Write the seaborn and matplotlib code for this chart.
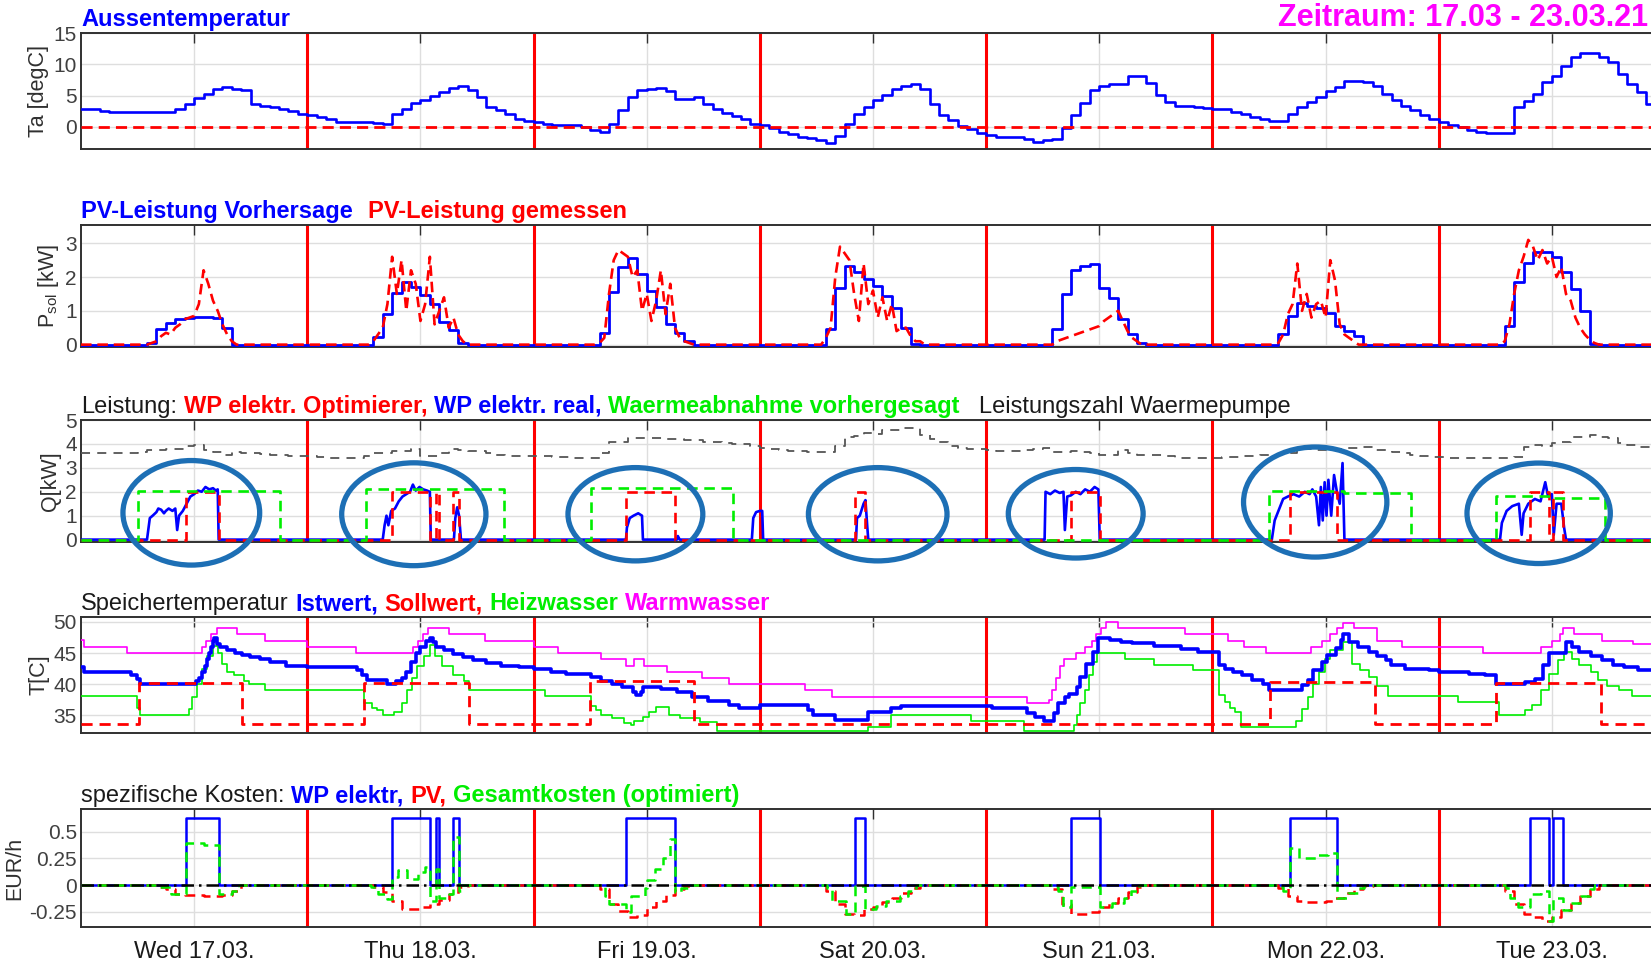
import numpy as np
import matplotlib
matplotlib.use("Agg")
import matplotlib.pyplot as plt
import matplotlib.transforms as mtransforms
from matplotlib.patches import Ellipse
import seaborn as sns

sns.set_theme(style="white")
plt.rcParams["font.family"] = ["Liberation Sans", "DejaVu Sans"]
plt.rcParams["mathtext.default"] = "regular"
plt.rcParams["axes.unicode_minus"] = False

# ---------------- data (hours from 17.03. 00:00) ----------------
day_labels = ["Wed 17.03.", "Thu 18.03.", "Fri 19.03.", "Sat 20.03.",
              "Sun 21.03.", "Mon 22.03.", "Tue 23.03."]

# outside temperature, hourly
ta_17 = [2.9, 2.9, 2.5, 2.4, 2.4, 2.3, 2.4, 2.3, 2.3, 2.4, 2.9, 3.6, 4.6, 5.3, 6.1, 6.4, 6.1, 5.9, 3.7, 3.4, 3.1, 2.9, 2.5, 2.1]
ta_18 = [1.8, 1.5, 1.2, 0.8, 0.7, 0.7, 0.7, 0.6, 0.4, 2.0, 2.8, 3.8, 4.3, 4.9, 5.6, 6.2, 6.5, 5.9, 4.8, 3.2, 2.7, 2.1, 1.3, 0.9]
ta_19 = [0.7, 0.5, 0.3, 0.2, 0.2, 0.0, -0.5, -0.9, 0.5, 2.7, 4.7, 5.9, 6.1, 6.2, 5.7, 4.5, 4.4, 4.7, 3.6, 2.8, 2.2, 1.7, 1.2, 0.5]
ta_20 = [0.3, -0.3, -0.8, -1.2, -1.6, -1.9, -2.2, -2.7, -1.5, 0.5, 2.1, 3.2, 4.3, 5.1, 6.1, 6.6, 6.8, 6.0, 3.7, 1.9, 1.0, 0.1, -0.4, -1.1]
ta_21 = [-1.3, -1.6, -1.6, -1.7, -2.0, -2.4, -2.2, -2.0, -0.3, 1.9, 3.8, 5.9, 6.5, 6.9, 6.9, 8.2, 8.2, 7.0, 5.1, 4.0, 3.4, 3.4, 3.2, 3.0]
ta_22 = [2.9, 2.8, 2.4, 2.1, 1.6, 1.2, 0.9, 0.9, 2.0, 3.1, 4.0, 4.8, 5.8, 6.3, 7.4, 7.4, 7.2, 6.6, 5.3, 4.3, 3.4, 2.6, 1.9, 1.2]
ta_23 = [0.7, 0.3, -0.1, -0.5, -0.8, -1.1, -1.1, -1.1, 3.1, 4.2, 5.3, 7.2, 8.2, 9.8, 11.2, 11.8, 11.8, 11.2, 10.4, 8.5, 6.9, 5.5, 3.7, 3.0]
ta_ref = 0.0

# PV forecast, hourly from 06:00 to 17:00
pv_fc_17 = [0, 0.05, 0.45, 0.65, 0.75, 0.78, 0.82, 0.82, 0.8, 0.48, 0, 0]
pv_fc_18 = [0, 0.23, 0.92, 1.53, 1.86, 1.71, 1.48, 1.2, 0.67, 0.42, 0.05, 0]
pv_fc_19 = [0, 0.35, 1.55, 2.3, 2.55, 2.1, 1.6, 1.1, 0.6, 0.33, 0.1, 0]
pv_fc_20 = [0, 0.45, 1.67, 2.33, 2.15, 1.94, 1.74, 1.44, 1.09, 0.5, 0.02, 0]
pv_fc_21 = [0, 0.45, 1.5, 2.2, 2.33, 2.38, 1.69, 1.39, 0.77, 0.3, 0.05, 0]
pv_fc_22 = [0, 0.3, 0.84, 1.24, 1.14, 1.09, 0.94, 0.55, 0.4, 0.25, 0, 0]
pv_fc_23 = [0, 0.55, 1.84, 2.43, 2.73, 2.73, 2.58, 2.14, 1.64, 1.0, 0.02, 0]

# PV measured, half-hourly from 06:00 to 17:30
pv_me_17 = [0, 0, 0, 0.05, 0.1, 0.25, 0.35, 0.3, 0.5, 0.6, 0.75, 0.8, 0.85, 1.2, 2.2, 1.8, 1.3, 1.0, 0.6, 0.3, 0.1, 0, 0, 0]
pv_me_18 = [0, 0, 0.1, 0.3, 0.5, 1.2, 2.6, 1.5, 2.5, 1.0, 2.2, 1.8, 0.7, 1.2, 2.6, 0.6, 1.0, 1.4, 0.5, 0.8, 0.3, 0.1, 0, 0]
pv_me_19 = [0, 0, 0.05, 0.2, 1.5, 2.5, 2.8, 2.7, 2.6, 2.0, 2.2, 1.0, 1.5, 0.7, 1.3, 2.2, 0.9, 1.8, 0.5, 0.2, 0.1, 0.05, 0, 0]
pv_me_20 = [0, 0, 0.2, 0.5, 2.0, 2.9, 2.7, 2.5, 1.5, 0.7, 2.4, 1.2, 1.6, 0.8, 1.4, 0.7, 1.2, 0.4, 0.5, 0.5, 0.25, 0.1, 0.1, 0]
pv_me_21 = [0, 0, 0, 0.1, 0.15, 0.2, 0.25, 0.3, 0.35, 0.4, 0.45, 0.5, 0.55, 0.7, 0.8, 0.9, 1.0, 0.7, 0.4, 0.2, 0.1, 0, 0, 0]
pv_me_22 = [0, 0, 0.05, 0.3, 0.9, 1.2, 2.4, 1.0, 1.5, 0.8, 1.2, 1.3, 0.8, 2.5, 1.9, 0.6, 0.3, 0.2, 0.1, 0, 0, 0, 0, 0]
pv_me_23 = [0, 0, 0.1, 0.6, 1.5, 2.2, 2.6, 3.1, 2.9, 2.5, 2.8, 2.4, 2.6, 2.0, 2.3, 1.5, 1.3, 0.8, 0.5, 0.3, 0.15, 0.05, 0, 0]

# heat pump COP (Leistungszahl), hourly
cop_17 = [3.6, 3.6, 3.6, 3.6, 3.6, 3.62, 3.65, 3.75, 3.75, 3.8, 3.8, 3.9, 3.95, 3.75, 3.65, 3.55, 3.65, 3.6, 3.6, 3.58, 3.55, 3.52, 3.5, 3.5]
cop_18 = [3.5, 3.45, 3.42, 3.42, 3.42, 3.42, 3.5, 3.6, 3.6, 3.7, 3.7, 3.8, 3.5, 3.5, 3.6, 3.77, 3.75, 3.7, 3.7, 3.6, 3.53, 3.5, 3.5, 3.5]
cop_19 = [3.5, 3.48, 3.46, 3.46, 3.42, 3.4, 3.4, 3.6, 4.1, 4.1, 4.23, 4.23, 4.23, 4.23, 4.2, 4.2, 4.16, 4.15, 4.1, 4.06, 4.02, 4.0, 3.98, 3.9]
cop_20 = [3.85, 3.8, 3.75, 3.72, 3.7, 3.67, 3.67, 3.67, 3.9, 4.3, 4.35, 4.44, 4.4, 4.58, 4.6, 4.68, 4.68, 4.37, 4.2, 4.1, 3.9, 3.85, 3.8, 3.77]
cop_21 = [3.75, 3.72, 3.7, 3.72, 3.75, 3.77, 3.84, 3.67, 3.67, 3.7, 3.65, 3.6, 3.55, 3.53, 3.75, 3.6, 3.53, 3.53, 3.53, 3.5, 3.42, 3.42, 3.4, 3.4]
cop_22 = [3.42, 3.44, 3.46, 3.48, 3.5, 3.53, 3.55, 3.58, 3.6, 3.8, 3.8, 3.75, 3.78, 3.8, 3.82, 3.85, 3.88, 3.75, 3.75, 3.67, 3.6, 3.53, 3.5, 3.46]
cop_23 = [3.44, 3.42, 3.42, 3.4, 3.4, 3.4, 3.4, 3.42, 3.45, 3.88, 3.95, 3.9, 4.02, 4.1, 4.3, 4.3, 4.37, 4.3, 4.23, 4.02, 3.95, 3.88, 3.88, 3.88]

# heat pump electric power (real), samples: hour of day -> kW
wp_t_17 = [7.0, 7.3, 7.6, 8.0, 8.2, 8.5, 8.8, 9.0, 9.3, 9.7, 10.0, 10.2, 10.4, 10.8, 11.2, 11.6, 12.0, 12.4, 12.8, 13.2, 13.6, 14.0, 14.3, 14.5, 14.6]
wp_v_17 = [0, 0.9, 1.0, 1.15, 1.3, 1.25, 1.1, 1.2, 1.3, 1.2, 1.3, 0.4, 1.0, 1.2, 1.5, 1.8, 1.9, 2.05, 2.0, 2.2, 2.1, 2.15, 2.05, 2.1, 0]
wp_t_18 = [8.0, 8.2, 8.4, 8.6, 8.9, 9.3, 9.7, 10.1, 10.5, 10.9, 11.2, 11.5, 11.9, 12.3, 12.7, 13.0, 13.1, 15.55, 15.7, 15.9, 16.1, 16.3]
wp_v_18 = [0, 0.6, 1.0, 0.6, 1.2, 1.3, 1.6, 1.8, 1.9, 2.0, 2.3, 2.05, 2.2, 2.1, 2.05, 2.0, 0, 0, 0.9, 1.35, 1.0, 0]
wp_t_19 = [9.8, 9.9, 10.2, 10.6, 11.1, 11.5, 11.6, 15.2, 15.3, 15.5, 23.15, 23.3, 23.6, 24.0, 24.25, 24.35]
wp_v_19 = [0, 0.5, 0.9, 1.0, 1.1, 1.0, 0, 0, 0.15, 0, 0, 0.9, 1.15, 1.2, 1.2, 0]
wp_t_20 = [10.2, 10.3, 10.6, 11.0, 11.2, 11.4, 11.5]
wp_v_20 = [0, 0.9, 1.0, 1.5, 1.65, 0.5, 0]
wp_t_21 = [6.2, 6.3, 6.8, 7.3, 7.8, 8.2, 8.35, 8.6, 9.0, 9.5, 10.0, 10.5, 11.0, 11.5, 11.9, 12.05]
wp_v_21 = [0, 2.0, 1.9, 2.05, 1.95, 2.0, 0.4, 1.8, 1.85, 2.0, 1.9, 2.1, 2.0, 2.2, 2.1, 0]
wp_t_22 = [6.3, 6.6, 7.0, 7.5, 8.0, 8.6, 9.2, 9.8, 10.3, 10.6, 11.0, 11.3, 11.5, 11.7, 11.9, 12.1, 12.3, 12.6, 12.9, 13.2, 13.5, 13.8, 14.0]
wp_v_22 = [0, 0.8, 1.2, 1.7, 1.8, 1.9, 1.8, 2.0, 1.9, 2.1, 1.8, 0.6, 2.2, 0.8, 2.4, 1.0, 2.5, 1.0, 2.7, 2.0, 1.5, 3.2, 0]
wp_t_23 = [6.5, 6.7, 7.2, 7.8, 8.5, 8.8, 9.0, 9.5, 10.2, 10.8, 11.3, 11.6, 12.0, 12.2, 12.5, 13.0, 13.3, 13.5]
wp_v_23 = [0, 0.7, 1.2, 1.4, 1.5, 0.2, 1.1, 1.5, 1.7, 1.6, 2.4, 1.8, 1.9, 0.2, 1.5, 1.5, 0.5, 0]

# optimizer schedule of heat pump (on/off blocks, absolute hours)
opt_start = [11.1, 33.0, 37.6, 39.5, 57.8, 82.1, 105.0, 128.2, 153.7, 156.1]
opt_end = [14.6, 37.0, 38.0, 40.05, 63.0, 83.1, 108.1, 133.2, 155.7, 157.2]
opt_power = 2.0
wp_cost = 0.625

# predicted heat demand blocks
heat_start = [6.0, 30.2, 54.05, 126.0, 134.0, 150.1, 156.0]
heat_end = [21.1, 44.9, 69.2, 134.0, 141.1, 156.0, 161.6]
heat_level = [2.05, 2.1, 2.15, 2.02, 1.93, 1.82, 1.74]

# storage temperatures
ist_t = [0, 0.3, 5.3, 5.9, 6.3, 12.2, 12.5, 12.8, 13.1, 13.4, 13.6, 13.8, 14.0, 14.1, 14.4, 14.7, 15.5, 16.3, 17.1, 17.9, 19.0, 20.0, 21.7,
         24.0, 29.3, 29.8, 30.3, 32.5, 33.4, 34.0, 34.5, 35.0, 35.5, 36.0, 36.6, 37.0, 37.3, 37.6, 38.5, 39.5, 40.5, 41.6, 43.0, 44.5, 46.5,
         48.0, 49.8, 51.4, 54.1, 55.2, 56.3, 57.4, 58.5, 58.9, 59.4, 59.6, 61.5, 63.2, 64.8, 66.5, 68.7, 69.8,
         72.0, 77.1, 77.6, 80.0, 83.5, 85.9, 87.0,
         96.6, 100.3, 101.2, 102.1, 103.2, 103.6, 104.4, 104.8, 105.6, 106.0, 106.6, 107.3, 107.9, 109.1, 110.3, 111.5, 113.8, 116.7, 118.5,
         120.7, 121.3, 122.2, 123.1, 124.2, 125.4, 126.0, 129.5, 130.1, 130.7, 131.6, 132.2, 133.1, 133.6, 133.9, 134.5, 135.4, 136.6, 137.5, 138.4, 138.9, 140.4, 143.0,
         144.0, 147.2, 148.9, 150.1, 153.1, 154.2, 155.1, 155.7, 157.5, 158.1, 158.9, 160.1, 161.3, 162.5, 163.6, 165.1]
ist_v = [42.7, 42.0, 41.5, 40.8, 40.0, 40.5, 41.0, 42.0, 43.0, 44.0, 45.0, 46.0, 47.0, 47.5, 46.5, 46.0, 45.5, 45.0, 44.7, 44.4, 44.0, 43.5, 43.0,
         42.7, 42.2, 41.5, 40.7, 40.0, 40.5, 41.0, 42.0, 43.5, 45.0, 46.0, 47.0, 47.5, 46.8, 46.0, 45.5, 44.8, 44.4, 43.9, 43.4, 43.0, 42.8,
         42.5, 42.0, 41.6, 41.1, 40.5, 40.0, 39.5, 38.8, 38.2, 38.8, 39.6, 39.3, 38.8, 38.0, 37.3, 36.6, 36.1,
         36.6, 35.8, 35.0, 34.2, 35.5, 36.1, 36.5,
         36.2, 35.3, 34.7, 34.0, 35.3, 36.9, 38.0, 38.5, 39.6, 41.2, 43.3, 45.2, 47.5, 47.1, 46.8, 46.6, 46.1, 45.7, 45.2,
         43.1, 42.5, 42.0, 41.5, 40.6, 40.1, 39.1, 39.8, 40.6, 42.3, 43.6, 44.7, 45.8, 47.1, 48.0, 46.8, 46.0, 45.2, 44.5, 43.9, 43.1, 42.5, 42.3,
         42.0, 41.7, 41.4, 40.0, 40.4, 40.9, 43.1, 45.05, 46.8, 46.0, 45.2, 44.5, 43.9, 43.1, 42.7, 42.3]

soll_start = [6.1, 30.05, 54.0, 126.1, 150.1]
soll_end = [17.1, 41.1, 65.0, 137.2, 161.2]
soll_high = [40.2, 40.2, 40.5, 40.3, 40.2]
soll_low = 33.55

hz_t = [0, 5.9, 6.3, 11.5, 11.8, 12.3, 12.8, 13.4, 14.0, 14.5, 15.0, 15.5, 16.2, 17.3, 17.8, 19.5,
        30.0, 30.9, 31.4, 32.0, 33.2, 34.0, 34.6, 35.1, 35.6, 36.4, 37.0, 37.5, 38.3, 39.5, 40.6, 41.1,
        49.2, 54.1, 54.6, 55.2, 56.3, 57.6, 58.3, 58.6, 59.6, 60.2, 61.0, 62.4, 63.5, 65.6, 67.5,
        83.5, 85.9, 94.4,
        100.0, 105.3, 105.6, 106.0, 106.5, 106.9, 107.3, 107.8, 110.7, 113.8, 117.9,
        120.7, 121.3, 121.9, 122.4, 123.0, 128.9, 129.5, 130.1, 130.7, 131.3, 131.9, 132.5, 133.9, 134.8, 135.7, 136.6, 137.5, 138.6,
        146.0, 150.4, 153.1, 153.9, 154.8, 155.7, 156.6, 157.3, 158.1, 158.9, 160.1, 160.9, 161.9, 163.1, 164.5]
hz_v = [38.1, 36.1, 35.0, 36.0, 38.0, 40.0, 42.5, 44.5, 46.2, 45.0, 43.3, 42.0, 41.5, 40.5, 40.0, 39.0,
        37.0, 36.2, 35.8, 35.0, 35.5, 37.0, 39.0, 41.0, 43.0, 44.5, 46.3, 44.5, 43.0, 41.5, 40.5, 39.0,
        38.1, 36.5, 35.8, 35.0, 34.5, 33.8, 33.5, 34.0, 34.8, 35.5, 36.3, 35.0, 34.5, 33.9, 32.4,
        33.1, 35.1, 34.1,
        32.4, 33.5, 35.1, 37.0, 39.0, 41.5, 43.5, 45.05, 44.1, 43.1, 42.2,
        38.2, 37.2, 36.1, 35.5, 33.1, 34.0, 36.0, 38.0, 40.0, 42.0, 44.0, 45.5, 46.8, 43.3, 42.3, 41.2, 39.7, 38.1,
        37.2, 35.0, 35.8, 36.6, 39.0, 41.7, 43.9, 45.2, 44.1, 43.1, 41.9, 40.6, 39.7, 39.0, 38.1]

ww_t = [0, 0.3, 4.9, 12.8, 13.3, 13.8, 14.4, 16.5, 19.5,
        24.0, 29.2, 35.2, 35.7, 36.3, 36.8, 39.0, 42.8,
        48.0, 50.6, 55.2, 57.8, 58.6, 59.7, 62.2, 65.9, 68.7,
        76.8, 79.7,
        100.3, 102.7, 103.0, 103.4, 103.8, 104.3, 105.5, 106.5, 107.2, 107.7, 108.2, 108.7, 110.0, 117.1,
        121.6, 123.4, 125.7, 130.5, 131.6, 132.5, 133.2, 133.8, 135.0, 137.5, 140.1,
        148.7, 154.9, 156.0, 156.9, 157.2, 158.3, 161.3, 164.6]
ww_v = [47.1, 46.0, 45.0, 46.0, 47.0, 48.0, 49.0, 48.0, 47.0,
        46.0, 45.0, 46.0, 47.0, 48.0, 49.0, 48.0, 47.0,
        46.0, 45.0, 44.0, 43.0, 44.0, 43.0, 42.0, 41.0, 40.0,
        39.0, 38.0,
        37.0, 37.5, 39.0, 41.0, 43.0, 44.0, 45.0, 46.0, 47.0, 48.0, 49.0, 50.0, 49.0, 48.0,
        47.0, 46.0, 45.0, 46.0, 47.0, 48.0, 49.0, 49.8, 49.0, 47.0, 46.0,
        45.0, 46.0, 47.0, 48.0, 49.0, 48.0, 47.0, 46.5]

# specific costs: PV (hourly 07:00..17:00) and total (breakpoints)
pvc_17 = [0, -0.02, -0.04, -0.08, -0.09, -0.095, -0.1, -0.1, -0.09, -0.05, 0]
pvc_18 = [-0.02, -0.06, -0.15, -0.22, -0.22, -0.2, -0.18, -0.14, -0.08, -0.02, 0]
pvc_19 = [-0.04, -0.18, -0.24, -0.3, -0.28, -0.2, -0.15, -0.09, -0.04, -0.01, 0]
pvc_20 = [-0.05, -0.18, -0.27, -0.28, -0.22, -0.2, -0.16, -0.12, -0.07, -0.03, 0]
pvc_21 = [-0.04, -0.18, -0.27, -0.27, -0.25, -0.2, -0.17, -0.12, -0.06, -0.02, 0]
pvc_22 = [-0.03, -0.1, -0.15, -0.16, -0.16, -0.15, -0.12, -0.07, -0.04, -0.01, 0]
pvc_23 = [-0.05, -0.18, -0.27, -0.3, -0.33, -0.3, -0.23, -0.17, -0.1, -0.04, 0]

tot_t = [7.9, 9.5, 11.1, 13.0, 14.6, 16.0, 16.8,
         30.8, 31.5, 32.5, 33.0, 33.6, 34.6, 35.7, 36.5, 37.0, 37.6, 38.0, 39.0, 39.5, 40.05, 40.4,
         55.2, 55.6, 56.0, 57.8, 58.3, 59.8, 60.0, 60.9, 61.7, 62.5, 63.0, 63.6, 64.4,
         79.1, 79.7, 81.1, 82.1, 83.1, 84.3, 85.4, 86.9, 87.7, 88.6,
         103.0, 103.6, 104.2, 105.0, 108.1, 109.3, 110.6, 111.4, 112.2,
         126.9, 127.5, 128.2, 129.2, 131.0, 132.3, 133.2, 134.4, 135.5, 136.1,
         151.1, 151.6, 152.4, 153.7, 154.8, 155.7, 156.1, 157.2, 158.0, 159.1, 160.0, 160.5]
tot_v = [-0.02, -0.08, 0.39, 0.37, -0.08, -0.05, 0.0,
         -0.02, -0.08, -0.13, 0.08, 0.14, 0.06, 0.12, 0.17, -0.15, 0.15, -0.12, -0.08, 0.45, -0.05, 0.0,
         -0.02, -0.1, -0.18, -0.25, -0.1, -0.03, 0.05, 0.15, 0.25, 0.43, -0.06, -0.03, 0.0,
         -0.03, -0.15, -0.27, -0.01, -0.22, -0.19, -0.15, -0.1, -0.05, 0.0,
         -0.02, -0.05, -0.2, -0.02, -0.2, -0.17, -0.12, -0.05, 0.0,
         -0.02, -0.05, 0.35, 0.25, 0.28, 0.3, -0.12, -0.07, -0.03, 0.0,
         -0.03, -0.12, -0.2, -0.08, -0.05, -0.33, -0.12, -0.23, -0.17, -0.1, -0.04, 0.0]

# annotation ellipses in the power panel (hour, kW, width h, height kW)
circ_x = [11.7, 35.3, 58.8, 84.5, 105.5, 130.9, 154.6]
circ_y = [1.12, 1.06, 1.06, 1.06, 1.08, 1.57, 1.1]
circ_w = [14.5, 15.3, 14.3, 14.7, 14.3, 15.2, 15.2]
circ_h = [4.37, 4.3, 3.9, 3.9, 3.7, 4.6, 4.2]

# ---------------- helpers ----------------
T_END = 168.0


def hourly(days):
    v = np.concatenate([np.asarray(d, float) for d in days])
    t = np.arange(len(v) + 1, dtype=float)
    return t, np.append(v, v[-1])


def window(days, h0, dt):
    n = int(round(T_END / dt))
    v = np.zeros(n + 1)
    for d, lst in enumerate(days):
        i0 = int(round((24 * d + h0) / dt))
        v[i0:i0 + len(lst)] = lst
    return np.arange(n + 1) * dt, v


def blocks(starts, ends, levels, base=0.0):
    edges = sorted(set([0.0, T_END] + list(starts) + list(ends)))
    vals = []
    for e in edges:
        val = base
        for s, en, lv in zip(starts, ends, levels):
            if s <= e < en:
                val = lv
        vals.append(val)
    return np.array(edges), np.array(vals)


def breakpoints(t, v, start=None, end=None):
    t = list(t)
    v = list(v)
    if t[0] > 0:
        t = [0.0] + t
        v = [v[0] if start is None else start] + v
    t = t + [T_END]
    v = v + [v[-1] if end is None else end]
    return np.array(t, float), np.array(v, float)


def daily_samples(ts, vs):
    t_all, v_all = [0.0], [0.0]
    for d, (tt, vv) in enumerate(zip(ts, vs)):
        t_all += [24 * d + x for x in tt]
        v_all += list(vv)
    t_all.append(T_END)
    v_all.append(0.0)
    return np.array(t_all), np.array(v_all)


def draw(ax, t, v, **kw):
    sns.lineplot(x=np.asarray(t, float), y=np.asarray(v, float), ax=ax,
                 estimator=None, sort=False, legend=False, **kw)


# ---------------- figure ----------------
W, H = 1651, 965
fig = plt.figure(figsize=(W / 100, H / 100), dpi=100)
X0, X1 = 81, 1665


def add_ax(top, bottom):
    return fig.add_axes([X0 / W, 1 - bottom / H, (X1 - X0) / W, (bottom - top) / H])


ax1 = add_ax(32.5, 149)
ax2 = add_ax(225, 347)
ax3 = add_ax(420, 542)
ax4 = add_ax(617, 733)
ax5 = add_ax(809, 927)
axes = [ax1, ax2, ax3, ax4, ax5]

BLUE, RED, GREEN, MAG = "#0000ff", "#ff0000", "#00ee00", "#ff00ff"
noon = [12 + 24 * d for d in range(7)]
midnight = [24 * d for d in range(1, 8)]

# panel 1: outside temperature
t, v = hourly([ta_17, ta_18, ta_19, ta_20, ta_21, ta_22, ta_23])
draw(ax1, t, v, color=BLUE, lw=1.9, drawstyle="steps-post", zorder=3)
draw(ax1, [0, T_END], [ta_ref, ta_ref], color=RED, lw=2.0, linestyle=(0, (4, 2.2)), zorder=3)

# panel 2: PV
t, v = window([pv_fc_17, pv_fc_18, pv_fc_19, pv_fc_20, pv_fc_21, pv_fc_22, pv_fc_23], 6, 1.0)
draw(ax2, t, v, color=BLUE, lw=2.0, drawstyle="steps-post", zorder=3)
t, v = window([pv_me_17, pv_me_18, pv_me_19, pv_me_20, pv_me_21, pv_me_22, pv_me_23], 6, 0.5)
draw(ax2, t, v, color=RED, lw=1.9, linestyle=(0, (4, 2.2)), zorder=4)

# panel 3: power
t, v = daily_samples([wp_t_17, wp_t_18, wp_t_19, wp_t_20, wp_t_21, wp_t_22, wp_t_23],
                     [wp_v_17, wp_v_18, wp_v_19, wp_v_20, wp_v_21, wp_v_22, wp_v_23])
draw(ax3, t, v, color=BLUE, lw=1.9, zorder=3)
t, v = blocks(opt_start, opt_end, [opt_power] * len(opt_start))
draw(ax3, t, v, color=RED, lw=1.9, drawstyle="steps-post", linestyle=(0, (4, 2.5)), zorder=4)
t, v = blocks(heat_start, heat_end, heat_level)
draw(ax3, t, v, color=GREEN, lw=1.9, drawstyle="steps-post", linestyle=(0, (4, 2.5)), zorder=4)
t, v = hourly([cop_17, cop_18, cop_19, cop_20, cop_21, cop_22, cop_23])
draw(ax3, t, v, color="#555555", lw=1.3, drawstyle="steps-post", linestyle=(0, (5, 4)), zorder=3)

for cx, cy, cw, ch in zip(circ_x, circ_y, circ_w, circ_h):
    ax3.add_patch(Ellipse((cx, cy), cw, ch, fill=False, ec="#1d6fb5", lw=3.8,
                          clip_on=False, zorder=6))

# panel 4: storage temperatures
t, v = breakpoints(ww_t, ww_v)
draw(ax4, t, v, color=MAG, lw=1.2, drawstyle="steps-post", zorder=3)
t, v = breakpoints(hz_t, hz_v)
draw(ax4, t, v, color=GREEN, lw=1.2, drawstyle="steps-post", zorder=3)
t, v = breakpoints(ist_t, ist_v)
draw(ax4, t, v, color=BLUE, lw=2.6, drawstyle="steps-post", zorder=4)
t, v = blocks(soll_start, soll_end, soll_high, base=soll_low)
draw(ax4, t, v, color=RED, lw=2.0, drawstyle="steps-post", linestyle=(0, (4, 2.5)), zorder=5)

# panel 5: costs
t, v = blocks(opt_start, opt_end, [wp_cost] * len(opt_start))
draw(ax5, t, v, color=BLUE, lw=1.8, drawstyle="steps-post", zorder=3)
t, v = window([pvc_17, pvc_18, pvc_19, pvc_20, pvc_21, pvc_22, pvc_23], 7, 1.0)
draw(ax5, t, v, color=RED, lw=1.8, drawstyle="steps-post", linestyle=(0, (4, 2.5)), zorder=4)
t, v = breakpoints(tot_t, tot_v, start=0.0, end=0.0)
draw(ax5, t, v, color=GREEN, lw=1.8, drawstyle="steps-post", linestyle=(0, (4, 2.5)), zorder=5)
draw(ax5, [0, T_END], [0, 0], color="black", lw=1.8, linestyle=(0, (5, 2, 1, 2)), zorder=6)

# ---------------- styling ----------------
specs = [
    (ax1, (-3.6, 15.15), [0, 5, 10, 15], "Ta [degC]"),
    (ax2, (-0.07, 3.54), [0, 1, 2, 3], r"P$_{sol}$ [kW]"),
    (ax3, (-0.1, 5.0), [0, 1, 2, 3, 4, 5], "Q[kW]"),
    (ax4, (32.15, 50.8), [35, 40, 45, 50], "T[C]"),
    (ax5, (-0.39, 0.71), [-0.25, 0, 0.25, 0.5], "EUR/h"),
]
for ax, ylim, yt, yl in specs:
    ax.set_xlim(0, T_END)
    ax.set_ylim(*ylim)
    ax.set_yticks(yt)
    ax.set_yticklabels([f"{y:g}" for y in yt])
    ax.set_xticks(noon)
    ax.set_xticklabels([])
    ax.grid(True, color="#dedede", lw=1.0)
    ax.set_axisbelow(True)
    for s in ax.spines.values():
        s.set_color("#303030")
        s.set_linewidth(1.4)
    ax.tick_params(direction="in", length=7, width=1.0, color="#303030",
                   top=True, right=True, labelsize=15, labelcolor="#404040", pad=3)
    ax.set_xlabel("")
    ax.set_ylabel(yl, fontsize=15.5, color="#303030", labelpad=3)
    for m in midnight:
        ax.axvline(m, color=RED, lw=2.2, zorder=2.5)

ax5.set_xticklabels(day_labels)
ax5.tick_params(axis="x", labelsize=17, labelcolor="#1a1a1a", pad=10)

# multi-coloured titles
renderer = fig.canvas.get_renderer()
FS = 17
SP = 0.278 * FS * 100 / 72


def multi_title(ax, pieces, dy=7):
    x = 0.0
    for text, color, weight, gap in pieces:
        tr = mtransforms.offset_copy(ax.transAxes, fig=fig, x=x, y=dy, units="dots")
        txt = ax.text(0, 1, text, transform=tr, color=color, fontweight=weight,
                      fontsize=FS, ha="left", va="baseline")
        x += txt.get_window_extent(renderer=renderer).width + gap


multi_title(ax1, [("Aussentemperatur", BLUE, "bold", 0)])
multi_title(ax2, [("PV-Leistung Vorhersage", BLUE, "bold", 15),
                  ("PV-Leistung gemessen", RED, "bold", 0)])
multi_title(ax3, [("Leistung:", "#1a1a1a", "normal", SP),
                  ("WP elektr. Optimierer,", RED, "bold", SP),
                  ("WP elektr. real,", BLUE, "bold", SP),
                  ("Waermeabnahme vorhergesagt", GREEN, "bold", 20),
                  ("Leistungszahl Waermepumpe", "#1a1a1a", "normal", 0)])
multi_title(ax4, [("Speichertemperatur", "#1a1a1a", "normal", SP),
                  ("Istwert,", BLUE, "bold", SP),
                  ("Sollwert,", RED, "bold", SP),
                  ("Heizwasser", GREEN, "bold", SP),
                  ("Warmwasser", MAG, "bold", 0)])
multi_title(ax5, [("spezifische Kosten:", "#1a1a1a", "normal", SP),
                  ("WP elektr,", BLUE, "bold", SP),
                  ("PV,", RED, "bold", SP),
                  ("Gesamtkosten (optimiert)", GREEN, "bold", 0)])

fig.text(1648 / W, 1 - 25.5 / H, "Zeitraum: 17.03 - 23.03.21", ha="right", va="baseline",
         fontsize=22, color=MAG, fontweight="bold")

fig.savefig("out.png", dpi=100)
